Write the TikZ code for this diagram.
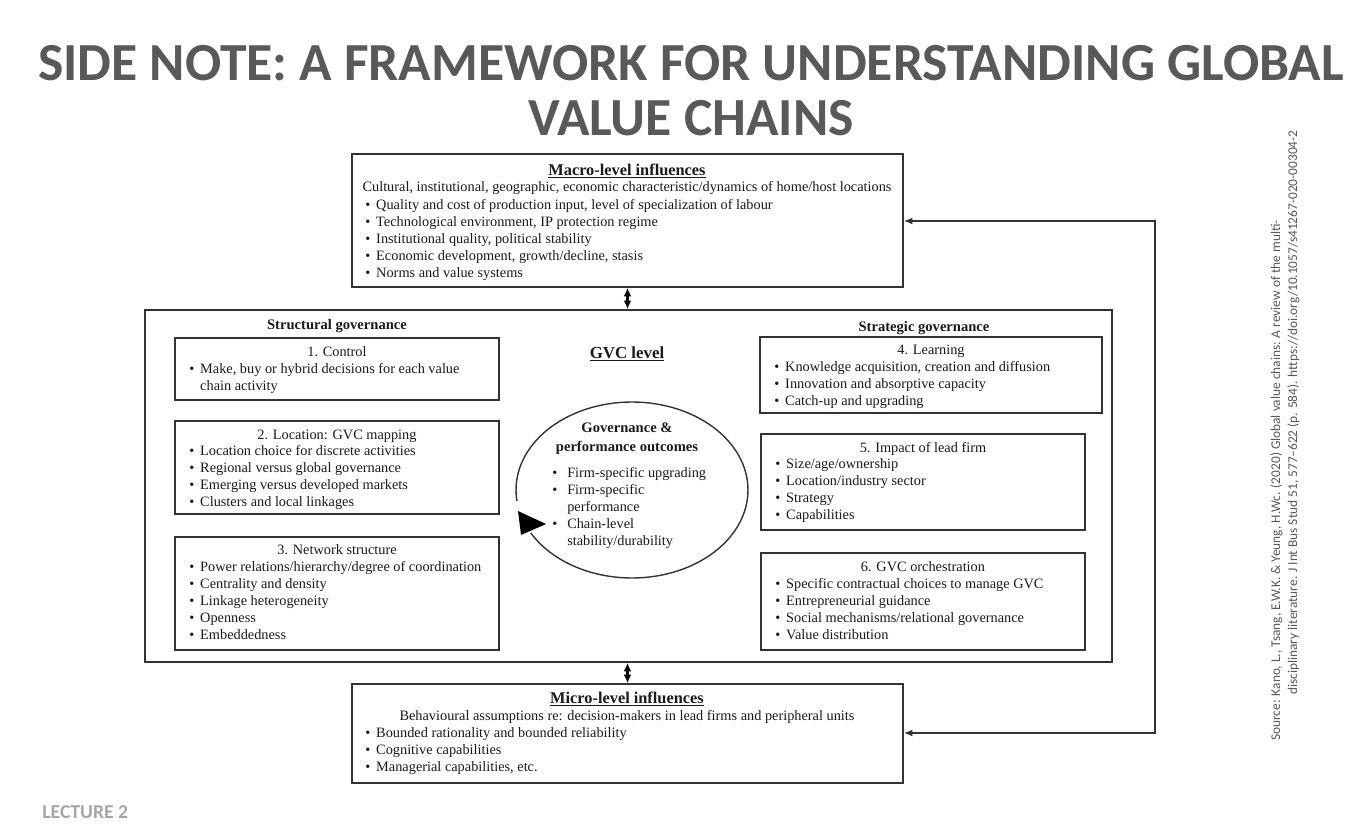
\documentclass[tikz,border=0pt]{standalone}
\usepackage{fontspec}
\setmainfont{Liberation Serif}
\newfontfamily\calib{Carlito}
\usetikzlibrary{arrows.meta,shapes.geometric,fit}
\definecolor{titlegray}{HTML}{595959}
\definecolor{linegray}{HTML}{333333}
\definecolor{lectgray}{HTML}{A6A6A6}
\definecolor{txt}{HTML}{1A1A1A}
\newcommand{\bi}[1]{\strut\makebox[6.2pt][l]{\textbullet}#1}
\newcommand{\bic}[1]{\strut\hspace*{6.2pt}#1}
\newcommand{\bie}[1]{\strut\makebox[8.5pt][l]{\textbullet}#1}
\newcommand{\biec}[1]{\strut\hspace*{8.5pt}#1}
\tikzset{
 box/.style={draw=linegray, line width=0.8pt, inner sep=0pt},
 body/.style={font=\fontsize{8.15}{9.7}\selectfont, text=txt, inner sep=0pt},
 hd/.style={font=\fontsize{8.3}{10}\selectfont\bfseries, text=txt, inner sep=0pt, anchor=base},
 bighd/.style={hd, font=\fontsize{9.3}{11}\selectfont\bfseries},
 ctr/.style={body, anchor=base},
 lst/.style={body, anchor=north west, align=left},
 dbl/.style={{Latex[length=5pt,width=4.5pt]}-{Latex[length=5pt,width=4.5pt]}, line width=1.3pt, draw=black},
 loopline/.style={{Latex[length=5pt,width=4pt]}-{Latex[length=5pt,width=4pt]}, line width=1.3pt, draw=linegray},
 src/.style={font=\fontsize{7.6}{9}\selectfont\calib, text=titlegray, inner sep=0pt, rotate=90, anchor=base west},
 ttl/.style={font=\fontsize{30.5}{37}\selectfont\calib\bfseries, text=titlegray, inner sep=0pt, anchor=base},
}
\begin{document}
\begin{tikzpicture}[x=0.02cm, y=-0.02cm]
\fill[white] (0,0) rectangle (1353,829);
\useasboundingbox (0,0) rectangle (1353,829);

% title
\node[ttl] (t1) at (691,80) {SIDE NOTE: A FRAMEWORK FOR UNDERSTANDING GLOBAL};
\node[ttl] (t2) at (691,135) {VALUE CHAINS};

% macro box
\node[box, fit={(352,154) (903,287)}] (macro) {};
\node[bighd] (macroh) at (627,175) {\underline{Macro-level influences}};
\node[ctr] (macroc) at (627,191) {Cultural, institutional, geographic, economic characteristic/dynamics of home/host locations};
\node[lst] (macrol) at (365,197) {\bi{Quality and cost of production input, level of specialization of labour}\\
\bi{Technological environment, IP protection regime}\\
\bi{Institutional quality, political stability}\\
\bi{Economic development, growth/decline, stasis}\\
\bi{Norms and value systems}};

% GVC big box
\node[box, fit={(145,310) (1112,662)}] (gvc) {};
\node[hd] (structh) at (337,329) {Structural governance};
\node[hd] (strath) at (924,331) {Strategic governance};
\node[hd, font=\fontsize{9.6}{11}\selectfont\bfseries] (gvch) at (627,358) {\underline{GVC level}};

% box 1
\node[box, fit={(175,338) (499,400)}] (b1) {};
\node[ctr] (b1h) at (337,356) {1. Control};
\node[lst] (b1l) at (189,361) {\bi{Make, buy or hybrid decisions for each value}\\
\bic{chain activity}};

% box 2
\node[box, fit={(175,421) (499,514)}] (b2) {};
\node[ctr] (b2h) at (337,439) {2. Location: GVC mapping};
\node[lst] (b2l) at (189,443) {\bi{Location choice for discrete activities}\\
\bi{Regional versus global governance}\\
\bi{Emerging versus developed markets}\\
\bi{Clusters and local linkages}};

% box 3
\node[box, fit={(175,537) (499,650)}] (b3) {};
\node[ctr] (b3h) at (337,554) {3. Network structure};
\node[lst] (b3l) at (189,559) {\bi{Power relations/hierarchy/degree of coordination}\\
\bi{Centrality and density}\\
\bi{Linkage heterogeneity}\\
\bi{Openness}\\
\bi{Embeddedness}};

% box 4
\node[box, fit={(760,337) (1102,413)}] (b4) {};
\node[ctr] (b4h) at (931,354) {4. Learning};
\node[lst] (b4l) at (774,359) {\bi{Knowledge acquisition, creation and diffusion}\\
\bi{Innovation and absorptive capacity}\\
\bi{Catch-up and upgrading}};

% box 5
\node[box, fit={(761,434) (1085,530)}] (b5) {};
\node[ctr] (b5h) at (923,452) {5. Impact of lead firm};
\node[lst] (b5l) at (775,456) {\bi{Size/age/ownership}\\
\bi{Location/industry sector}\\
\bi{Strategy}\\
\bi{Capabilities}};

% box 6
\node[box, fit={(761,553) (1085,650)}] (b6) {};
\node[ctr] (b6h) at (923,571) {6. GVC orchestration};
\node[lst] (b6l) at (775,576) {\bi{Specific contractual choices to manage GVC}\\
\bi{Entrepreneurial guidance}\\
\bi{Social mechanisms/relational governance}\\
\bi{Value distribution}};

% ellipse
\node[ellipse, draw=linegray, line width=0.8pt, minimum width=4.64cm, minimum height=3.52cm, inner sep=0pt] (ell) at (632,490) {};
\fill[white] (509,501) rectangle (531,533);
\fill[black] (518,511) -- (546,524) -- (521,535) -- cycle;
\node[hd] (ellh1) at (627,432) {Governance \&};
\node[hd] (ellh2) at (627,451) {performance outcomes};
\node[lst] (elll) at (552,465) {\bie{Firm-specific upgrading}\\
\bie{Firm-specific}\\
\biec{performance}\\
\bie{Chain-level}\\
\biec{stability/durability}};

% micro box
\node[box, fit={(352,684) (903,783)}] (micro) {};
\node[bighd] (microh) at (627,703) {\underline{Micro-level influences}};
\node[ctr] (microc) at (627,720) {Behavioural assumptions re: decision-makers in lead firms and peripheral units};
\node[lst] (microl) at (365,725) {\bi{Bounded rationality and bounded reliability}\\
\bi{Cognitive capabilities}\\
\bi{Managerial capabilities, etc.}};

% connectors
\draw[dbl] (macro.south) -- (macro.south |- gvc.north);
\draw[dbl] (micro.north |- gvc.south) -- (micro.north);
\coordinate (rt) at (1155,221);
\coordinate (rb) at (1155,733);
\draw[loopline] (macro.east |- rt) -- (rt) -- (rb) -- (micro.east |- rb);

% source
\node[src] (s1) at (1280,741) {Source: Kano, L., Tsang, E.W.K. \& Yeung, H.Wc. (2020) Global value chains: A review of the multi-};
\node[src] (s2) at (1297,695) {disciplinary literature. J Int Bus Stud 51, 577–622 (p. 584). https://doi.org/10.1057/s41267-020-00304-2};

% footer
\node[font=\fontsize{11.2}{13}\selectfont\calib\bfseries, text=lectgray, inner sep=0pt, anchor=base west] (lect) at (42,818) {LECTURE 2};
\end{tikzpicture}
\end{document}
